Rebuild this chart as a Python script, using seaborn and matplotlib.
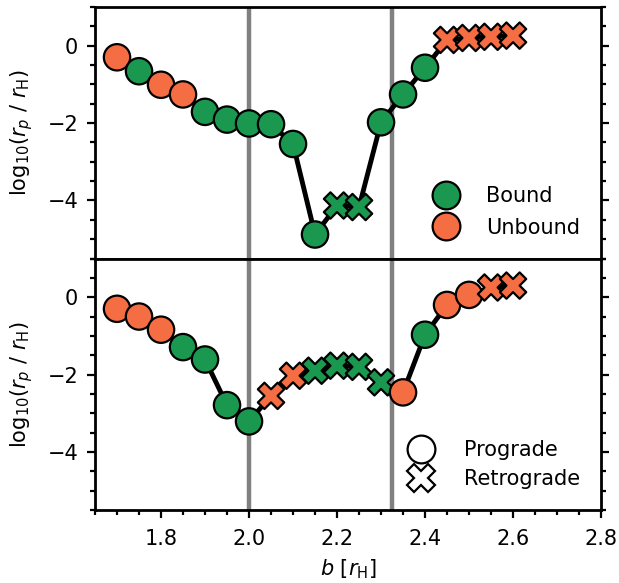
import numpy as np
import pandas as pd
import matplotlib
matplotlib.use("Agg")
import matplotlib.pyplot as plt
from matplotlib.lines import Line2D
import seaborn as sns

# ---- data ----
b_vals = [1.70, 1.75, 1.80, 1.85, 1.90, 1.95, 2.00, 2.05, 2.10, 2.15,
          2.20, 2.25, 2.30, 2.35, 2.40, 2.45, 2.50, 2.55, 2.60]

top_logrp = [-0.30, -0.66, -1.01, -1.26, -1.71, -1.91, -2.01, -2.03, -2.54, -4.88,
             -4.13, -4.17, -1.98, -1.26, -0.57, 0.15, 0.20, 0.23, 0.26]
top_state = ["Unbound", "Bound", "Unbound", "Unbound", "Bound", "Bound", "Bound", "Bound", "Bound", "Bound",
             "Bound", "Bound", "Bound", "Bound", "Bound", "Unbound", "Unbound", "Unbound", "Unbound"]
top_dir = ["Prograde"] * 10 + ["Retrograde", "Retrograde"] + ["Prograde"] * 3 + ["Retrograde"] * 4

bot_logrp = [-0.30, -0.50, -0.84, -1.29, -1.61, -2.79, -3.21, -2.55, -2.03, -1.90,
             -1.77, -1.80, -2.20, -2.46, -0.97, -0.20, 0.06, 0.25, 0.30]
bot_state = ["Unbound", "Unbound", "Unbound", "Bound", "Bound", "Bound", "Bound", "Unbound", "Unbound", "Bound",
             "Bound", "Bound", "Bound", "Unbound", "Bound", "Unbound", "Unbound", "Unbound", "Unbound"]
bot_dir = ["Prograde"] * 7 + ["Retrograde"] * 6 + ["Prograde"] * 4 + ["Retrograde"] * 2

vlines = [2.0, 2.325]

state_labels = ["Bound", "Unbound"]
dir_labels = ["Prograde", "Retrograde"]
xtick_vals = [1.8, 2.0, 2.2, 2.4, 2.6, 2.8]
ytick_vals = [-4, -2, 0]

# ---- style ----
GREEN = "#1a9850"
ORANGE = "#f46d43"
palette = {"Bound": GREEN, "Unbound": ORANGE}
markers = {"Prograde": "o", "Retrograde": "X"}

sns.set_style("ticks")
plt.rcParams.update({
    "font.family": ["DejaVu Sans"],
    "mathtext.fontset": "dejavusans",
    "axes.edgecolor": "black",
    "xtick.color": "black",
    "ytick.color": "black",
    "text.color": "black",
    "axes.labelcolor": "black",
})

fig, axes = plt.subplots(2, 1, figsize=(6.19, 5.83), dpi=100, sharex=True)
fig.subplots_adjust(left=0.1535, right=0.971, top=0.988, bottom=0.1252, hspace=0)

panels = [(top_logrp, top_state, top_dir), (bot_logrp, bot_state, bot_dir)]
for ax, (yv, st, dr) in zip(axes, panels):
    df = pd.DataFrame({"b": b_vals, "logrp": yv, "state": st, "dir": dr})
    for xv in vlines:
        ax.axvline(xv, color="#808080", lw=3.2, zorder=0)
    sns.lineplot(data=df, x="b", y="logrp", color="black", lw=3.5, ax=ax,
                 zorder=2, estimator=None, sort=False)
    sns.scatterplot(data=df, x="b", y="logrp", hue="state", style="dir",
                    palette=palette, markers=markers, s=360, edgecolor="black",
                    linewidth=1.6, ax=ax, zorder=3, legend=False)
    ax.set_xlim(1.65, 2.8)
    ax.set_ylim(-5.5, 1.0)
    ax.set_yticks(ytick_vals)
    ax.yaxis.set_minor_locator(matplotlib.ticker.MultipleLocator(0.5))
    ax.xaxis.set_minor_locator(matplotlib.ticker.MultipleLocator(0.05))
    ax.set_ylabel(r"log$_{10}$($r_p$ / $r_{\rm H}$)", fontsize=15, labelpad=9)
    ax.tick_params(axis="both", which="major", direction="out", length=6,
                   width=1.6, labelsize=15, right=True)
    ax.tick_params(axis="both", which="minor", direction="out", length=3.5,
                   width=1.6, right=True)
    ax.tick_params(axis="y", which="major", pad=6)
    ax.tick_params(axis="x", which="major", pad=8)
    for sp in ax.spines.values():
        sp.set_linewidth(2.0)
        sp.set_visible(True)

axes[0].tick_params(axis="x", which="both", bottom=False, labelbottom=False)
axes[1].set_xticks(xtick_vals)
axes[1].set_xlabel(r"$b$ [$r_{\rm H}$]", fontsize=15, labelpad=6)

# legends
h_state = [Line2D([], [], marker="o", ls="", ms=20, mfc=palette[s], mec="black", mew=1.6)
           for s in state_labels]
axes[0].legend(h_state, state_labels, loc="lower right", frameon=False, fontsize=15,
               handletextpad=0.95, labelspacing=0.55, borderaxespad=0.6)

h_dir = [Line2D([], [], marker=markers[d], ls="", ms=20, mfc="white", mec="black", mew=1.6)
         for d in dir_labels]
axes[1].legend(h_dir, dir_labels, loc="lower right", frameon=False, fontsize=15,
               handletextpad=1.05, labelspacing=0.45, borderaxespad=0.6)

fig.savefig("out.png", dpi=100)
